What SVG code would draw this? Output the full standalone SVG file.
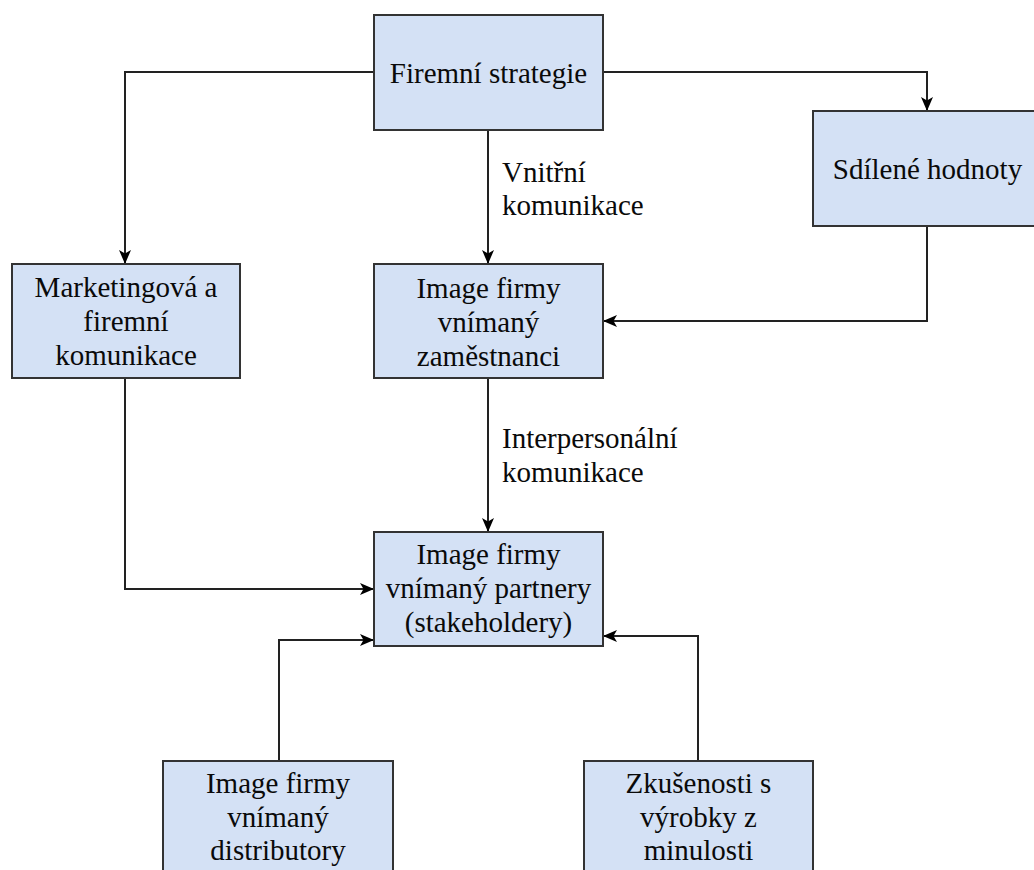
<svg xmlns="http://www.w3.org/2000/svg" width="1034" height="870" viewBox="0 0 1034 870">
<style>
.box{fill:#D4E1F5;stroke:#333333;stroke-width:2}
text{font-family:'Liberation Serif','Times New Roman',serif;font-size:29px;fill:#0a0a0a}
.t{text-anchor:middle}
.c{fill:none;stroke:#222222;stroke-width:2}
</style>
<defs>
<marker id="a" viewBox="0 0 14 12" refX="14" refY="6" markerWidth="14" markerHeight="12" markerUnits="userSpaceOnUse" orient="auto">
<path d="M0,0 L14,6 L0,12 L3.5,6 z" fill="#000000"/>
</marker>
</defs>
<rect width="1034" height="870" fill="#ffffff"/>
<g id="connectors">
<path class="c" d="M374,72 H125 V264" marker-end="url(#a)"/>
<path class="c" d="M603,72 H927 V111" marker-end="url(#a)"/>
<path class="c" d="M488,130 V264" marker-end="url(#a)"/>
<path class="c" d="M927,226 V321 H603" marker-end="url(#a)"/>
<path class="c" d="M488,378 V532" marker-end="url(#a)"/>
<path class="c" d="M125,378 V589 H374" marker-end="url(#a)"/>
<path class="c" d="M279,761 V640 H374" marker-end="url(#a)"/>
<path class="c" d="M698,761 V636 H603" marker-end="url(#a)"/>
<text x="502" y="182">Vnitřní</text>
<text x="502" y="215">komunikace</text>
<text x="502" y="448">Interpersonální</text>
<text x="502" y="482">komunikace</text>
</g>
<g id="firemni-strategie">
<rect class="box" x="374" y="15" width="229" height="115"/>
<text class="t" x="488.5" y="83">Firemní strategie</text>
</g>
<g id="sdilene-hodnoty">
<rect class="box" x="813" y="111" width="229" height="115"/>
<text class="t" x="927.5" y="179">Sdílené hodnoty</text>
</g>
<g id="marketingova">
<rect class="box" x="12" y="264" width="228" height="114"/>
<text class="t" x="126" y="297">Marketingová a</text>
<text class="t" x="126" y="331">firemní</text>
<text class="t" x="126" y="365">komunikace</text>
</g>
<g id="zamestnanci">
<rect class="box" x="374" y="264" width="229" height="114"/>
<text class="t" x="488.5" y="298">Image firmy</text>
<text class="t" x="488.5" y="332">vnímaný</text>
<text class="t" x="488.5" y="366">zaměstnanci</text>
</g>
<g id="partnery">
<rect class="box" x="374" y="532" width="229" height="114"/>
<text class="t" x="488.5" y="564">Image firmy</text>
<text class="t" x="488.5" y="598">vnímaný partnery</text>
<text class="t" x="488.5" y="632">(stakeholdery)</text>
</g>
<g id="distributory">
<rect class="box" x="163" y="761" width="230" height="115"/>
<text class="t" x="278" y="793">Image firmy</text>
<text class="t" x="278" y="827">vnímaný</text>
<text class="t" x="278" y="860">distributory</text>
</g>
<g id="zkusenosti">
<rect class="box" x="584" y="761" width="229" height="115"/>
<text class="t" x="698.5" y="793">Zkušenosti s</text>
<text class="t" x="698.5" y="827">výrobky z</text>
<text class="t" x="698.5" y="860">minulosti</text>
</g>
</svg>
